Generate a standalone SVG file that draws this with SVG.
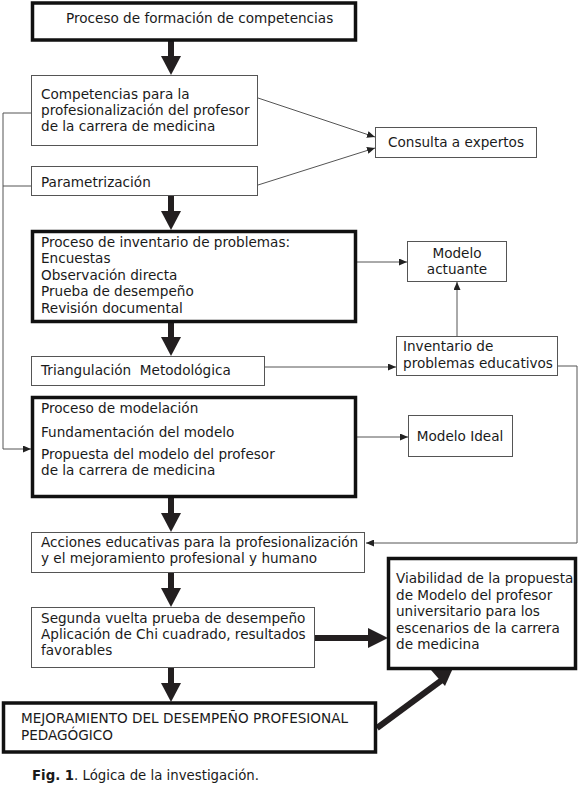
<svg xmlns="http://www.w3.org/2000/svg" width="579" height="799" viewBox="0 0 579 799">
<style>
text{font-family:"DejaVu Sans",Verdana,sans-serif;font-size:13.6px;fill:#1a1a1a}
.thin{fill:#fff;stroke:#555;stroke-width:1}
.thick{fill:#fff;stroke:#111;stroke-width:3.5}
.c{fill:none;stroke:#555;stroke-width:1}
.b{stroke:#231f20;stroke-width:6;fill:none}
.h{fill:#231f20}
.cap{font-size:13.3px}
</style>
<defs>
<marker id="a" markerWidth="8" markerHeight="7" refX="8" refY="3.5" orient="auto" markerUnits="userSpaceOnUse"><path d="M0,0 L8,3.5 L0,7z" fill="#222"/></marker>
</defs>
<g id="connectors">
<line class="b" x1="171" y1="41" x2="171" y2="60"/><polygon class="h" points="161,56 181,56 171,75"/>
<line class="b" x1="171" y1="196" x2="171" y2="215"/><polygon class="h" points="161,211 181,211 171,230"/>
<line class="b" x1="171" y1="322" x2="171" y2="341"/><polygon class="h" points="161,337 181,337 171,356"/>
<line class="b" x1="171" y1="497" x2="171" y2="517"/><polygon class="h" points="161,513 181,513 171,532"/>
<line class="b" x1="171" y1="573" x2="171" y2="592"/><polygon class="h" points="161,588 181,588 171,607"/>
<line class="b" x1="171" y1="668" x2="171" y2="687"/><polygon class="h" points="161,683 181,683 171,702"/>
<line class="b" x1="315" y1="638" x2="372" y2="638"/><polygon class="h" points="368,628 368,648 388,638"/>
<line class="b" x1="377" y1="728" x2="442" y2="680"/><polygon class="h" points="431,670 445,686 453,668"/>
<line class="c" x1="258" y1="98" x2="375" y2="137" marker-end="url(#a)"/>
<line class="c" x1="258" y1="185" x2="375" y2="148" marker-end="url(#a)"/>
<polyline class="c" points="31,113 3,113 3,449 31,449" marker-end="url(#a)"/>
<line class="c" x1="31" y1="186" x2="3" y2="186"/>
<line class="c" x1="357" y1="262" x2="407" y2="262" marker-end="url(#a)"/>
<line class="c" x1="457" y1="336" x2="457" y2="282" marker-end="url(#a)"/>
<line class="c" x1="265" y1="367" x2="396" y2="367" marker-end="url(#a)"/>
<line class="c" x1="357" y1="437" x2="408" y2="437" marker-end="url(#a)"/>
<polyline class="c" points="558,366 577,366 577,543 366,543" marker-end="url(#a)"/>
</g>
<g id="n1"><rect class="thick" x="32.5" y="3" width="323" height="37"/><text x="66" y="23">Proceso de formación de competencias</text></g>
<g id="n2"><rect class="thin" x="31.5" y="75.5" width="226" height="70"/><text x="41" y="99">Competencias para la</text><text x="41" y="115">profesionalización del profesor</text><text x="41" y="131">de la carrera de medicina</text></g>
<g id="n3"><rect class="thin" x="31.5" y="166.5" width="226" height="29"/><text x="41" y="187">Parametrización</text></g>
<g id="n4"><rect class="thin" x="375.5" y="127.5" width="161" height="30"/><text x="456" y="147" text-anchor="middle">Consulta a expertos</text></g>
<g id="n5"><rect class="thick" x="32.5" y="231.5" width="323" height="90"/><text x="41" y="247">Proceso de inventario de problemas:</text><text x="41" y="263">Encuestas</text><text x="41" y="280">Observación directa</text><text x="41" y="296">Prueba de desempeño</text><text x="41" y="313">Revisión documental</text></g>
<g id="n6"><rect class="thin" x="407.5" y="241.5" width="99" height="40"/><text x="457" y="258" text-anchor="middle">Modelo</text><text x="457" y="274" text-anchor="middle">actuante</text></g>
<g id="n7"><rect class="thin" x="31.5" y="356.5" width="233" height="29"/><text x="41" y="375" xml:space="preserve">Triangulación  Metodológica</text></g>
<g id="n8"><rect class="thin" x="396.5" y="336.5" width="161" height="39"/><text x="403" y="351">Inventario de</text><text x="403" y="368">problemas educativos</text></g>
<g id="n9"><rect class="thick" x="32.5" y="397.5" width="323" height="99"/><text x="41" y="413">Proceso de modelación</text><text x="41" y="437">Fundamentación del modelo</text><text x="41" y="459">Propuesta del modelo del profesor</text><text x="41" y="475">de la carrera de medicina</text></g>
<g id="n10"><rect class="thin" x="408.5" y="415.5" width="104" height="41"/><text x="460" y="441" text-anchor="middle">Modelo Ideal</text></g>
<g id="n11"><rect class="thin" x="31.5" y="532.5" width="333" height="40"/><text x="41" y="547">Acciones educativas para la profesionalización</text><text x="41" y="563">y el mejoramiento profesional y humano</text></g>
<g id="n12"><rect class="thin" x="31.5" y="607.5" width="283" height="60"/><text x="41" y="623">Segunda vuelta prueba de desempeño</text><text x="41" y="639">Aplicación de Chi cuadrado, resultados</text><text x="41" y="655">favorables</text></g>
<g id="n13"><rect class="thick" x="388.5" y="558.5" width="187" height="110"/><text x="396" y="583">Viabilidad de la propuesta</text><text x="396" y="600">de Modelo del profesor</text><text x="396" y="616">universitario para los</text><text x="396" y="633">escenarios de la carrera</text><text x="396" y="649">de medicina</text></g>
<g id="n14"><rect class="thick" x="3.5" y="703" width="372" height="49"/><text x="21" y="723">MEJORAMIENTO DEL DESEMPEÑO PROFESIONAL</text><text x="21" y="740">PEDAGÓGICO</text></g>
<text class="cap" x="32" y="780"><tspan font-weight="bold">Fig. 1</tspan>. Lógica de la investigación.</text>
</svg>
